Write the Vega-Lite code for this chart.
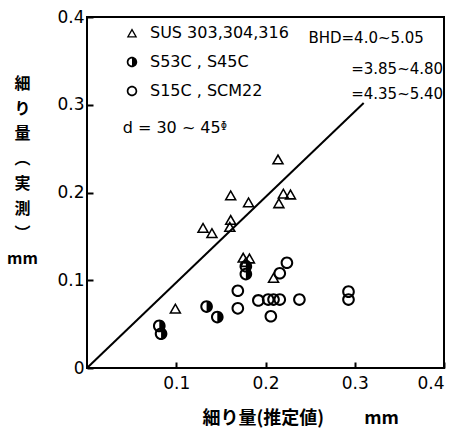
{
  "$schema": "https://vega.github.io/schema/vega-lite/v6.json",
  "width": 357,
  "height": 351,
  "autosize": {"type": "none"},
  "padding": {"left": 87, "top": 17, "right": 30, "bottom": 69},
  "background": "white",
  "config": {
    "view": {"stroke": "black", "strokeWidth": 2},
    "font": "DejaVu Sans",
    "axis": {
      "domain": false, "grid": false, "labelColor": "black", "labelFontSize": 17,
      "labelFont": "DejaVu Sans", "titleColor": "black"
    }
  },
  "datasets": {
    "line": [{"x": 0, "y": 0}, {"x": 0.31, "y": 0.302}],
    "pts": [
      {"x": 0.214, "y": 0.238, "m": "SUS 303,304,316"},
      {"x": 0.161, "y": 0.197, "m": "SUS 303,304,316"},
      {"x": 0.181, "y": 0.189, "m": "SUS 303,304,316"},
      {"x": 0.220, "y": 0.199, "m": "SUS 303,304,316"},
      {"x": 0.228, "y": 0.198, "m": "SUS 303,304,316"},
      {"x": 0.215, "y": 0.188, "m": "SUS 303,304,316"},
      {"x": 0.161, "y": 0.169, "m": "SUS 303,304,316"},
      {"x": 0.160, "y": 0.161, "m": "SUS 303,304,316"},
      {"x": 0.130, "y": 0.160, "m": "SUS 303,304,316"},
      {"x": 0.140, "y": 0.154, "m": "SUS 303,304,316"},
      {"x": 0.175, "y": 0.126, "m": "SUS 303,304,316"},
      {"x": 0.182, "y": 0.125, "m": "SUS 303,304,316"},
      {"x": 0.178, "y": 0.121, "m": "SUS 303,304,316"},
      {"x": 0.209, "y": 0.103, "m": "SUS 303,304,316"},
      {"x": 0.099, "y": 0.068, "m": "SUS 303,304,316"},
      {"x": 0.178, "y": 0.116, "m": "S53C , S45C"},
      {"x": 0.178, "y": 0.107, "m": "S53C , S45C"},
      {"x": 0.134, "y": 0.070, "m": "S53C , S45C"},
      {"x": 0.146, "y": 0.058, "m": "S53C , S45C"},
      {"x": 0.081, "y": 0.048, "m": "S53C , S45C"},
      {"x": 0.083, "y": 0.039, "m": "S53C , S45C"},
      {"x": 0.224, "y": 0.120, "m": "S15C , SCM22"},
      {"x": 0.216, "y": 0.108, "m": "S15C , SCM22"},
      {"x": 0.169, "y": 0.088, "m": "S15C , SCM22"},
      {"x": 0.169, "y": 0.068, "m": "S15C , SCM22"},
      {"x": 0.192, "y": 0.077, "m": "S15C , SCM22"},
      {"x": 0.203, "y": 0.078, "m": "S15C , SCM22"},
      {"x": 0.209, "y": 0.078, "m": "S15C , SCM22"},
      {"x": 0.216, "y": 0.078, "m": "S15C , SCM22"},
      {"x": 0.206, "y": 0.059, "m": "S15C , SCM22"},
      {"x": 0.238, "y": 0.078, "m": "S15C , SCM22"},
      {"x": 0.293, "y": 0.087, "m": "S15C , SCM22"},
      {"x": 0.293, "y": 0.078, "m": "S15C , SCM22"}
    ],
    "bhd": [
      {"x": 0.3775, "y": 0.376, "t": "BHD=4.0~5.05"},
      {"x": 0.399, "y": 0.341, "t": "=3.85~4.80"},
      {"x": 0.399, "y": 0.3125, "t": "=4.35~5.40"}
    ],
    "dnote": [
      {"x": 0.040, "y": 0.273, "t": "d = 30 ~ 45ᶲ"}
    ]
  },
  "layer": [
    {
      "data": {"name": "line"},
      "mark": {"type": "line", "color": "black", "strokeWidth": 2},
      "encoding": {
        "x": {"field": "x", "type": "quantitative", "scale": {"domain": [0, 0.4], "nice": false},
          "axis": {"values": [0.1, 0.2, 0.3, 0.4], "labelExpr": "format(datum.value, '.1f')",
            "ticks": true, "tickSize": 6, "tickWidth": 2, "tickColor": "black", "offset": -6, "zindex": 1,
            "labelPadding": 7, "title": "細り量(推定値)　　 mm", "titleFont": "Noto Sans CJK JP", "titleFontSize": 18,
            "titleFontWeight": "bold", "titleX": 115, "titleY": 56, "titleAlign": "left", "titleBaseline": "middle"}},
        "y": {"field": "y", "type": "quantitative", "scale": {"domain": [0, 0.4], "nice": false},
          "axis": {"values": [0, 0.1, 0.2, 0.3, 0.4], "labelExpr": "datum.value == 0 ? '0' : format(datum.value, '.1f')",
            "ticks": true, "tickSize": 6, "tickWidth": 2, "tickColor": "black", "offset": -6, "zindex": 1,
            "labelPadding": 3, "title": ["細", "り", "量", "︵", "実", "測", "︶", "mm"], "titleFont": "Noto Sans CJK JP",
            "titleFontSize": 16, "titleFontWeight": "bold", "titleAngle": 0, "titleX": -71, "titleY": 58,
            "titleAlign": "center", "titleBaseline": "top", "titleLineHeight": 25}}
      }
    },
    {
      "data": {"name": "pts"},
      "mark": {"type": "point", "filled": true, "color": "black", "size": 160, "strokeWidth": 0, "opacity": 1},
      "encoding": {
        "x": {"field": "x", "type": "quantitative"},
        "y": {"field": "y", "type": "quantitative"},
        "shape": {"field": "m", "type": "nominal",
          "scale": {"domain": ["SUS 303,304,316", "S53C , S45C", "S15C , SCM22"],
            "range": [
              "M0,-0.9L1,0.85L-1,0.85ZM0,-0.4L-0.58,0.6L0.58,0.6Z",
              "M0,-1A1,1,0,1,1,0,1A1,1,0,1,1,0,-1ZM0,-0.68A0.68,0.68,0,1,0,0,0.68A0.68,0.68,0,1,0,0,-0.68ZM0,-0.68A0.68,0.68,0,0,1,0,0.68Z",
              "M0,-1A1,1,0,1,1,0,1A1,1,0,1,1,0,-1ZM0,-0.68A0.68,0.68,0,1,0,0,0.68A0.68,0.68,0,1,0,0,-0.68Z"
            ]},
          "legend": {"orient": "none", "legendX": 37, "legendY": 8, "title": null, "padding": 0,
            "symbolSize": 110, "symbolFillColor": "black", "symbolStrokeWidth": 0, "symbolOpacity": 1,
            "labelFontSize": 16, "labelColor": "black", "labelFont": "DejaVu Sans", "labelOffset": 10,
            "rowPadding": 13, "labelLimit": 300}}
      }
    },
    {
      "data": {"name": "bhd"},
      "mark": {"type": "text", "align": "right", "baseline": "middle", "fontSize": 15, "color": "black", "font": "DejaVu Sans"},
      "encoding": {
        "x": {"field": "x", "type": "quantitative"},
        "y": {"field": "y", "type": "quantitative"},
        "text": {"field": "t"}
      }
    },
    {
      "data": {"name": "dnote"},
      "mark": {"type": "text", "align": "left", "baseline": "middle", "fontSize": 16, "color": "black", "font": "DejaVu Sans"},
      "encoding": {
        "x": {"field": "x", "type": "quantitative"},
        "y": {"field": "y", "type": "quantitative"},
        "text": {"field": "t"}
      }
    }
  ]
}
